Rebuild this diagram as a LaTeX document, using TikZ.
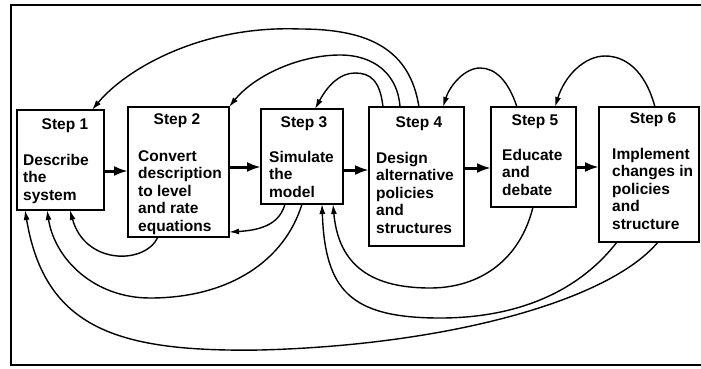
\documentclass[tikz,border=0pt]{standalone}
\usepackage{fontspec}
\setmainfont{Liberation Sans}
\usetikzlibrary{arrows.meta}
\begin{document}
\begin{tikzpicture}[x=1pt,y=-1pt,
  stepbox/.style={draw,line width=1.7pt,inner sep=0pt,outer sep=0pt,anchor=north west,fill=white},
  steptitle/.style={anchor=base,inner sep=0pt,font=\bfseries\fontsize{15.5}{17.5}\selectfont},
  stepbody/.style={anchor=base west,inner sep=0pt,align=left,font=\bfseries\fontsize{15.5}{17.5}\selectfont},
  flow/.style={line width=3pt,-{Latex[length=14pt,width=10pt]}},
  loop/.style={line width=1.4pt,-{Latex[length=10pt,width=6pt]}}]
\useasboundingbox (0,0) rectangle (701,368);
% frame
\draw[line width=1.6pt] (702,5) -- (11,5) -- (11,365) -- (702,365);

% the six steps
\node[stepbox,minimum width=87pt,minimum height=100pt] (s1) at (17,110) {};
\node[stepbox,minimum width=101pt,minimum height=130pt] (s2) at (128,107) {};
\node[stepbox,minimum width=82pt,minimum height=95pt] (s3) at (261,109) {};
\node[stepbox,minimum width=95pt,minimum height=139pt] (s4) at (369,107) {};
\node[stepbox,minimum width=85pt,minimum height=100pt] (s5) at (491,107) {};
\node[stepbox,minimum width=100pt,minimum height=135pt] (s6) at (599,107) {};

\node[steptitle] (h1) at (65,129) {Step 1};
\node[steptitle] (h2) at (177,124) {Step 2};
\node[steptitle] (h3) at (304,127) {Step 3};
\node[steptitle] (h4) at (419,127) {Step 4};
\node[steptitle] (h5) at (535,125) {Step 5};
\node[steptitle] (h6) at (653,123) {Step 6};

% body texts, placed by the baseline of their last line
\node[stepbody] (b1) at (23,200) {Describe\\the\\system};
\node[stepbody] (b2) at (138,231) {Convert\\description\\to level\\and rate\\equations};
\node[stepbody] (b3) at (269,197) {Simulate\\the\\model};
\node[stepbody] (b4) at (376,233) {Design\\alternative\\policies\\and\\structures};
\node[stepbody] (b5) at (502,195) {Educate\\and\\debate};
\node[stepbody] (b6) at (612,229) {Implement\\changes in\\policies\\and\\structure};

% forward flow
\draw[flow] (s1.east |- 0,171) -- (s2.west |- 0,171);
\draw[flow] (s2.east |- 0,167) -- (s3.west |- 0,167);
\draw[flow] (s3.east |- 0,170) -- (s4.west |- 0,170);
\draw[flow] (s4.east |- 0,168) -- (s5.west |- 0,168);
\draw[flow] (s5.east |- 0,167) -- (s6.west |- 0,167);

% attachment points on the box edges
\coordinate (p4a) at (419,107);
\coordinate (p4b) at (400,107);
\coordinate (p4c) at (383,107);
\coordinate (p4in) at (443,107);
\coordinate (p1top) at (92,110);
\coordinate (p2top) at (229,107);
\coordinate (p3top) at (315,109);
\coordinate (p5top) at (517,107);
\coordinate (p5in) at (555,107);
\coordinate (p6top) at (655,107);
\coordinate (p2bot) at (158,237);
\coordinate (p2side) at (229,232);
\coordinate (p3bl) at (285,204);
\coordinate (p3br) at (302,204);
\coordinate (p3inl) at (322,204);
\coordinate (p3inr) at (333,204);
\coordinate (p5bot) at (533,207);
\coordinate (p6bl) at (617,242);
\coordinate (p6br) at (658,242);
\coordinate (p1a) at (25,210);
\coordinate (p1b) at (47,210);
\coordinate (p1c) at (70,210);

% feedback loops above
\draw[loop] (p4a) .. controls (410,50) and (370,29) .. (300,29)
  .. controls (200,25) and (125,70) .. (p1top);
\draw[loop] (p4b) .. controls (398,75) and (375,55) .. (340,55)
  .. controls (300,55) and (255,75) .. (p2top);
\draw[loop] (p4c) .. controls (380,80) and (370,73) .. (355,73)
  .. controls (340,73) and (328,85) .. (p3top);
\draw[loop] (p5top) .. controls (508,80) and (495,68) .. (480,68)
  .. controls (465,68) and (450,85) .. (p4in);
\draw[loop] (p6top) .. controls (645,70) and (625,56) .. (605,56)
  .. controls (585,56) and (565,75) .. (p5in);

% feedback loops below
\draw[loop] (p2bot) .. controls (145,265) and (85,265) .. (p1c);
\draw[loop] (p3bl) .. controls (280,222) and (265,230) .. (p2side);
\draw[loop] (p3br) .. controls (285,260) and (230,298) .. (150,298)
  .. controls (95,298) and (55,260) .. (p1b);
\draw[loop] (p6br) .. controls (610,300) and (450,345) .. (260,350)
  .. controls (120,352) and (45,330) .. (p1a);
\draw[loop] (p6bl) .. controls (580,290) and (520,318) .. (440,318)
  .. controls (350,318) and (325,290) .. (p3inl);
\draw[loop] (p5bot) .. controls (520,260) and (480,288) .. (430,288)
  .. controls (365,288) and (338,260) .. (p3inr);
\end{tikzpicture}
\end{document}
